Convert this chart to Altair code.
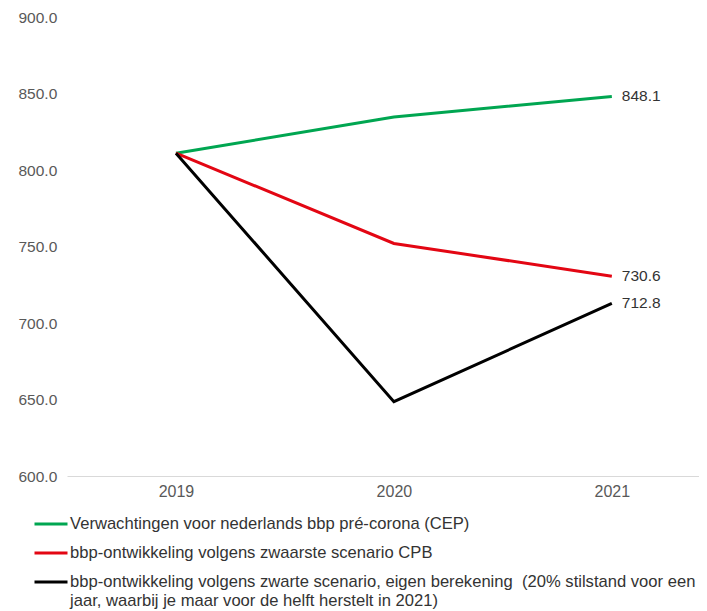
import altair as alt
import pandas as pd

years = [2019, 2020, 2021]
series = [
    "Verwachtingen voor nederlands bbp pré-corona (CEP)",
    "bbp-ontwikkeling volgens zwaarste scenario CPB",
    "bbp-ontwikkeling volgens zwarte scenario, eigen berekening\u00a0 (20% stilstand voor een|jaar, waarbij je maar voor de helft herstelt in 2021)",
]
cep = [811.0, 834.6, 848.1]
cpb = [811.0, 752.0, 730.6]
eigen = [811.0, 648.6, 712.8]
colors = ["#00a651", "#e30613", "#000000"]

rows = []
for name, vals in zip(series, [cep, cpb, eigen]):
    for y, v in zip(years, vals):
        rows.append({"jaar": y, "waarde": v, "reeks": name})
df = pd.DataFrame(rows)
last = df[df["jaar"] == 2021]

FONT = "Liberation Sans"

x = alt.X("jaar:Q", scale=alt.Scale(domain=[2018.5, 2021.4], nice=False, zero=False),
          axis=alt.Axis(values=years, format="d", title=None, grid=False, ticks=False,
                        domain=True, domainColor="#d9d9d9", labelColor="#595959",
                        labelFontSize=16, labelFont=FONT, labelPadding=7))
y = alt.Y("waarde:Q", scale=alt.Scale(domain=[600, 900], nice=False, zero=False),
          axis=alt.Axis(values=[600, 650, 700, 750, 800, 850, 900], format=".1f", title=None,
                        grid=False, ticks=False, domain=False, labelAlign="left",
                        labelPadding=49, labelColor="#595959", labelFontSize=15.5, labelFont=FONT))

lines = alt.Chart(df).mark_line(strokeWidth=3).encode(
    x=x, y=y,
    color=alt.Color("reeks:N", sort=series,
                    scale=alt.Scale(domain=series, range=colors),
                    legend=alt.Legend(title=None, orient="none", legendX=-34, legendY=489,
                                      direction="vertical", symbolType="stroke", symbolSize=1089,
                                      symbolStrokeWidth=3, labelFontSize=16.6, labelFont=FONT,
                                      labelColor="#333333", labelLimit=800, labelOffset=1,
                                      rowPadding=2, labelExpr="split(datum.label, '|')")),
)

labels = alt.Chart(last).mark_text(align="left", baseline="middle", dx=10, fontSize=15.5,
                                    font=FONT, color="#333333").encode(
    x="jaar:Q", y="waarde:Q", text=alt.Text("waarde:Q", format=".1f"))

chart = alt.layer(lines, labels).properties(
    width=632, height=459,
    autosize=alt.AutoSizeParams(type="none"),
    padding={"left": 59, "top": 9, "right": 0, "bottom": 134},
).configure_view(stroke=None)

chart.save("out.html", embed_options={"renderer": "svg", "actions": False})
